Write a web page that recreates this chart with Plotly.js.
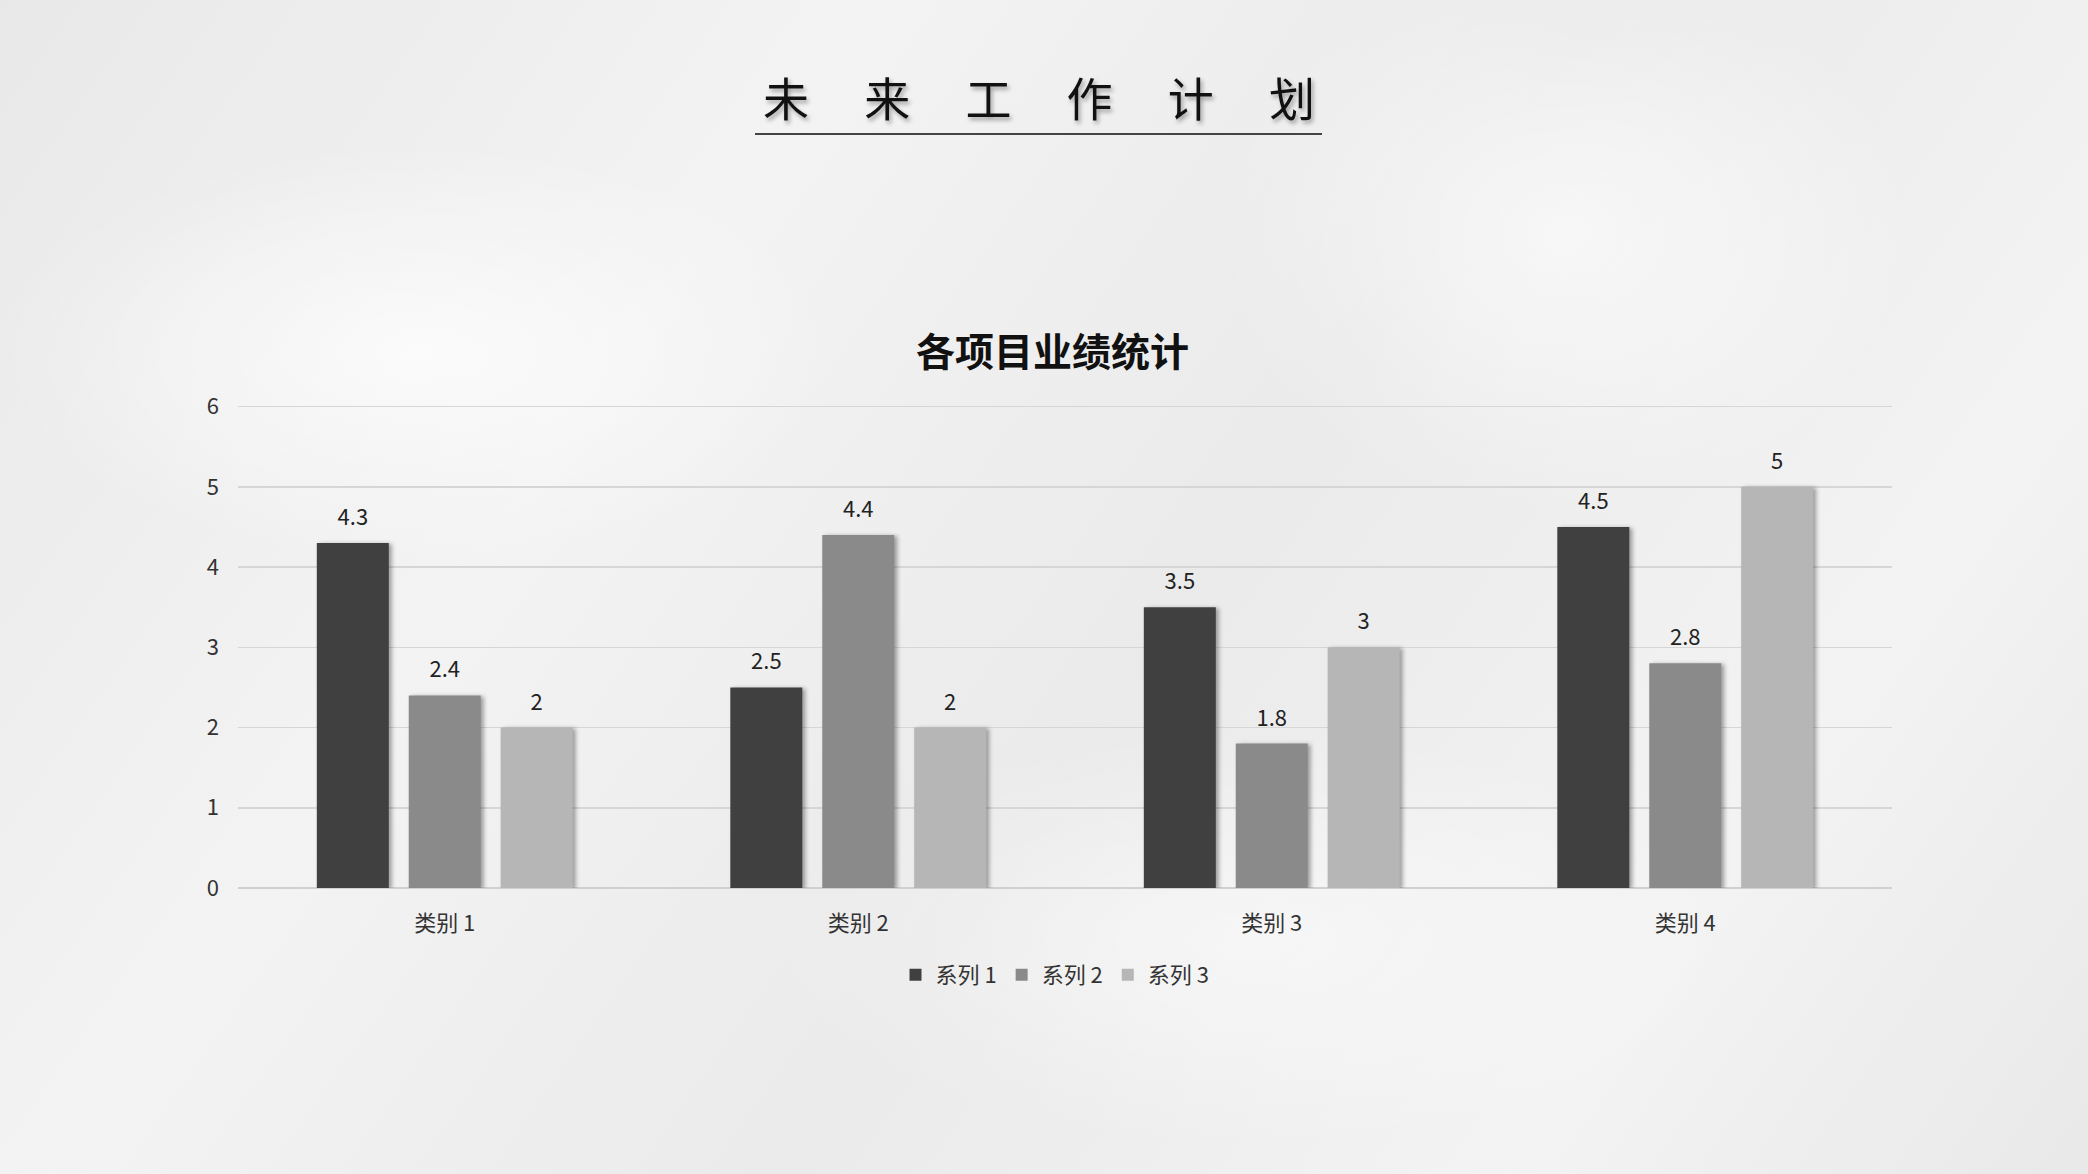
<!DOCTYPE html>
<html>
<head>
<meta charset="utf-8">
<script src="https://cdn.plot.ly/plotly-3.0.1.min.js"></script>
<style>
  html, body { margin: 0; padding: 0; width: 2088px; height: 1174px; overflow: hidden; }
  body {
    background-color: #f0f0f0;
    background-image:
      radial-gradient(ellipse 600px 300px at 20% 30%, rgba(255,255,255,0.7), rgba(255,255,255,0) 70%),
      radial-gradient(ellipse 500px 400px at 75% 20%, rgba(255,255,255,0.6), rgba(255,255,255,0) 70%),
      radial-gradient(ellipse 700px 300px at 60% 80%, rgba(255,255,255,0.5), rgba(255,255,255,0) 70%),
      linear-gradient(125deg, rgba(0,0,0,0.03) 0%, rgba(255,255,255,0.2) 30%, rgba(0,0,0,0.025) 55%, rgba(255,255,255,0.2) 80%, rgba(0,0,0,0.03) 100%);
  }
  #chart { width: 2088px; height: 1174px; }
  #chart .bars .point path { filter: drop-shadow(3px 1px 2px rgba(0,0,0,0.35)); }
  #chart .bars .point text { translate: 0px -9px; }
  #chart g.annotation[data-index="0"] text { filter: drop-shadow(2px 3px 2px rgba(0,0,0,0.35)); }
</style>
</head>
<body>
<div id="chart"></div>
<script>
const categories = ["类别 1", "类别 2", "类别 3", "类别 4"];
const seriesNames = ["系列 1", "系列 2", "系列 3"];
const series1 = [4.3, 2.5, 3.5, 4.5];
const series2 = [2.4, 4.4, 1.8, 2.8];
const series3 = [2, 2, 3, 5];
const yTicks = [0, 1, 2, 3, 4, 5, 6];
const mainTitleChars = ["未", "来", "工", "作", "计", "划"];
const chartTitle = "各项目业绩统计";

const colors = ["#404040", "#8a8a8a", "#b6b6b6"];
const font = "'Noto Sans CJK SC', 'Noto Sans', sans-serif";
const allSeries = [series1, series2, series3];

const traces = allSeries.map((vals, i) => ({
  type: "bar",
  name: seriesNames[i],
  x: categories,
  y: vals,
  marker: { color: colors[i] },
  text: vals.map(v => String(v)),
  textposition: "outside",
  textfont: { family: font, size: 22, color: "#222222" },
  cliponaxis: false,
  hoverinfo: "x+y+name"
}));

const yTop = 6.02;
const plotL = 238, plotR = 1892, plotB = 888;
const unit = (888 - 407) / 6;
const plotT = Math.round(plotB - unit * yTop);
const pw = plotR - plotL, ph = plotB - plotT;
const px = x => (x - plotL) / pw;
const py = y => (plotB - y) / ph;

const layout = {
  width: 2088,
  height: 1174,
  paper_bgcolor: "rgba(0,0,0,0)",
  plot_bgcolor: "rgba(0,0,0,0)",
  margin: { l: plotL, r: 2088 - plotR, t: plotT, b: 1174 - plotB, pad: 0 },
  font: { family: font, color: "#333333" },
  barmode: "group",
  bargap: 0.333,
  bargroupgap: 0.217,
  showlegend: true,
  legend: {
    orientation: "h",
    x: px(1055), xanchor: "center",
    y: py(975), yanchor: "middle",
    font: { family: font, size: 22, color: "#333333" },
    itemwidth: 30,
    tracegroupgap: 0,
    bgcolor: "rgba(0,0,0,0)"
  },
  xaxis: {
    type: "category",
    showgrid: false,
    showline: false,
    zeroline: false,
    ticks: "",
    tickfont: { family: font, size: 22, color: "#333333" },
    ticklabelstandoff: 20
  },
  yaxis: {
    range: [0, yTop],
    tickvals: yTicks,
    ticktext: yTicks.map(String),
    showgrid: true,
    gridcolor: "#d6d6d6",
    gridwidth: 1.5,
    zeroline: true,
    zerolinecolor: "#d0d0d0",
    zerolinewidth: 1.5,
    showline: false,
    ticks: "",
    tickfont: { family: font, size: 22, color: "#333333" },
    ticklabelstandoff: 18
  },
  annotations: [
    {
      text: mainTitleChars.join("\u2003\u2009"),
      xref: "paper", yref: "paper",
      x: px(1039), y: py(96),
      xanchor: "center", yanchor: "middle",
      showarrow: false,
      font: { family: font, size: 46, color: "#111111" }
    },
    {
      text: "<b>" + chartTitle + "</b>",
      xref: "paper", yref: "paper",
      x: px(1052), y: py(349),
      xanchor: "center", yanchor: "middle",
      showarrow: false,
      font: { family: font, size: 39, color: "#111111" }
    }
  ],
  shapes: [
    {
      type: "line",
      xref: "paper", yref: "paper",
      x0: px(755), x1: px(1322),
      y0: py(134), y1: py(134),
      line: { color: "#444444", width: 2 }
    }
  ]
};

Plotly.newPlot("chart", traces, layout, { displayModeBar: false, staticPlot: true });
</script>
</body>
</html>
